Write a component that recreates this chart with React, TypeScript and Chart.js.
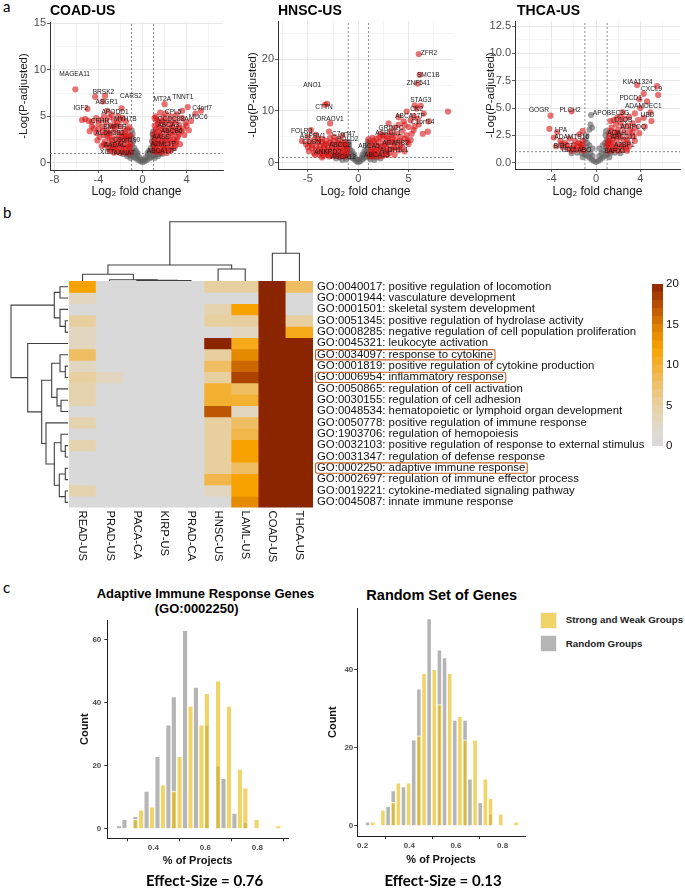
import React, { useEffect, useRef } from 'react';
import { Chart, registerables } from 'chart.js';
Chart.register(...registerables);

const SANS = "'Liberation Sans', Arial, Helvetica, sans-serif";
const CAL = "Lato, 'Open Sans', sans-serif";

// ================= Panel a: volcano data =================
const fcCut = 1;
const padjCut = 1;

const coadGray = [[0,0.05],[-0.2,0.15],[0.2,0.15],[-0.4,0.3],[0.4,0.3],[-0.6,0.45],[0.6,0.45],[-0.8,0.6],[0.8,0.6],[-1.0,0.75],[1.0,0.75],[-1.2,0.85],[1.2,0.85],[-1.5,0.95],[1.5,0.95],[-1.8,0.95],[1.8,0.95],[-0.3,0.6],[0.3,0.6],[-0.5,0.8],[0.5,0.8],[-0.7,1.0],[0.7,1.0],[-0.9,1.3],[0.9,1.3],[-0.75,1.6],[0.75,1.6],[-0.95,1.9],[0.95,1.9],[-0.85,2.3],[0.85,2.3],[-0.95,2.7],[0.95,2.7],[-0.9,3.1],[0.9,3.1],[-0.98,3.5],[0.97,3.4],[-0.6,1.3],[0.6,1.3],[-1.1,0.5],[1.1,0.5],[-0.1,0.35],[0.1,0.35],[-1.4,0.7],[1.4,0.7],[-0.45,1.05],[0.45,1.05]];
const coadRed = [[-6.1,7.9],[-4.3,7.1],[-3.4,7.2],[-3.6,6.6],[-1.9,5.85],[-5.0,5.8],[-3.2,5.6],[-3.5,5.0],[-5.2,4.7],[-4.9,4.5],[-4.6,4.4],[-4.2,4.8],[-4.0,4.2],[-3.8,4.6],[-3.0,4.9],[-2.6,4.6],[-2.3,4.3],[-2.9,4.0],[-3.6,3.9],[-4.4,3.7],[-3.2,3.5],[-2.5,3.6],[-2.0,3.9],[-1.6,3.4],[-1.3,3.0],[-2.2,3.1],[-2.8,3.2],[-3.5,3.0],[-3.9,2.8],[-3.0,2.7],[-2.5,2.6],[-1.9,2.7],[-1.4,2.4],[-1.1,2.0],[-1.7,2.0],[-2.3,2.2],[-2.9,2.1],[-3.4,2.3],[-3.7,1.8],[-3.1,1.6],[-2.6,1.7],[-2.1,1.6],[-1.5,1.6],[-1.2,1.3],[-1.8,1.2],[-2.4,1.2],[-3.0,1.3],[-2.0,1.05],[-1.4,1.05],[-4.2,3.2],[-4.8,3.4],[-1.7,2.9],[-2.1,2.5],[-2.7,1.9],[-1.3,1.8],[-3.3,4.4],[-2.8,5.2],
  [-1.2,3.8],[-1.5,4.4],[-1.8,4.8],[-2.2,5.0],[-1.1,2.9],[-1.3,2.5],[-1.6,2.6],[-2.0,2.2],[-2.4,1.9],[-2.8,2.5],[-3.2,2.9],[-3.6,3.4],[-4.0,3.6],[-4.6,3.9],[-5.5,4.6],[-2.4,4.0],[-2.7,3.9],[-3.1,3.2],[-1.9,3.2],[-1.5,2.9],[-1.2,1.7],[-1.9,1.8],[-2.3,1.4],[-2.8,1.5],[-3.3,1.9],[-1.7,1.5],[-1.1,1.1],[-2.6,1.1],[-3.5,2.0],[-4.1,2.4],[-1.4,3.6],[-2.0,4.6],
  [2.0,6.3],[3.6,5.6],[4.1,6.0],[4.8,5.3],[4.4,4.5],[5.3,5.6],[1.6,5.4],[2.1,5.3],[2.6,5.0],[3.1,5.2],[3.6,4.8],[3.9,4.3],[1.3,4.6],[1.8,4.5],[2.3,4.6],[2.8,4.3],[3.3,4.1],[1.1,4.0],[1.5,3.8],[2.0,3.9],[2.5,3.7],[3.0,3.6],[3.5,3.4],[1.2,3.3],[1.7,3.2],[2.2,3.3],[2.7,3.0],[3.2,2.8],[1.1,2.7],[1.5,2.6],[2.0,2.7],[2.5,2.4],[3.0,2.2],[1.2,2.1],[1.6,2.0],[2.1,2.0],[2.6,1.8],[1.1,1.6],[1.5,1.5],[1.9,1.4],[2.4,1.3],[1.2,1.15],[1.7,1.1],[2.2,1.05],[2.9,1.6],[3.4,2.0],[3.8,3.0],[4.2,3.5],[1.4,3.0],[1.8,2.3],[2.3,2.8],[1.3,1.9],[1.0,1.3],[2.7,3.8],[1.9,4.9],
  [1.1,4.8],[1.4,4.2],[1.7,3.6],[2.1,3.5],[2.5,3.2],[2.9,3.3],[3.3,3.1],[1.2,3.6],[1.6,2.9],[2.0,2.4],[2.4,2.2],[2.8,2.5],[3.1,2.5],[1.4,2.3],[1.8,1.9],[2.2,1.6],[2.6,1.4],[1.3,1.3],[1.6,1.2],[2.0,1.6],[3.0,1.9],[3.3,3.7],[3.0,4.6],[2.5,4.2],[2.0,4.3],[1.5,4.4],[1.2,5.0],[3.7,3.7],[4.0,4.0],[1.0,2.3],[1.0,3.0],[1.0,1.9]];
const coadGenes = [['MAGEA11',-6.16,9.55],['BRSK2',-3.55,7.55],['CARS2',-1.05,7.2],['MT2A',1.8,6.8],['TNNT1',3.65,7.1],['ASGR1',-3.25,6.5],['IGF2',-5.6,5.85],['C4orf7',5.4,5.85],['APODD1',-2.5,5.46],['CPL5',2.78,5.42],['MUC6',5.05,4.89],['CCDC88A',2.78,4.7],['CFHR',-3.86,4.45],['MYH7B',-1.57,4.67],['ABCA3',2.33,4.06],['BMPER',-2.5,3.84],['ABCB6',2.64,3.41],['ALDH3B2',-2.96,3.16],['C9orf190',-1.44,2.44],['AASS',1.67,2.73],['AADAC',-2.5,1.9],['A2ML1P',1.88,2.01],['XIST',-3.2,1.18],['AANAT',-1.66,1.08],['ABCA17P',1.73,1.29]];

const hnscGray = [[0,0.1],[-0.2,0.3],[0.2,0.3],[-0.4,0.6],[0.4,0.6],[-0.6,0.9],[0.6,0.9],[-0.8,1.1],[0.8,1.1],[-1.1,1.2],[1.1,1.2],[-1.4,1.25],[1.4,1.25],[-1.8,1.0],[1.8,1.0],[-2.2,0.8],[2.2,0.8],[-0.3,0.9],[0.3,0.9],[-0.5,1.3],[0.5,1.3],[-0.7,1.7],[0.7,1.7],[-0.9,2.0],[0.9,2.0],[-0.8,2.5],[0.8,2.5],[-0.95,3.0],[0.95,3.0],[-0.9,3.5],[0.9,3.5],[-0.6,2.2],[0.6,2.2],[-1.2,0.6],[1.2,0.6],[-0.1,0.5],[0.1,0.5],[-1.6,0.5],[1.6,0.5],[-0.4,1.6],[0.4,1.6],[-0.97,4.0],[0.97,4.1]];
const hnscRed = [[-3.1,11.4],[-3.3,11.2],[-2.8,7.6],[-4.7,6.3],[-5.6,4.2],[-5.2,3.6],[-4.8,3.9],[-4.4,4.4],[-4.0,4.0],[-3.6,4.6],[-3.2,4.2],[-2.8,4.8],[-2.4,5.0],[-2.0,4.4],[-1.6,5.2],[-1.3,4.0],[-4.6,2.8],[-4.2,3.2],[-3.8,2.6],[-3.4,3.4],[-3.0,3.0],[-2.6,3.6],[-2.2,3.2],[-1.8,3.6],[-1.4,3.0],[-4.9,2.2],[-4.4,1.9],[-3.9,1.6],[-3.5,2.2],[-3.1,1.9],[-2.7,2.4],[-2.3,2.0],[-1.9,2.4],[-1.5,2.0],[-1.2,1.5],[-1.6,1.3],[-2.1,1.5],[-2.6,1.3],[-3.0,1.5],[-3.5,1.3],[-1.1,2.6],[-1.3,3.5],[-5.0,5.0],[-4.2,5.4],[-3.6,1.0],[-2.9,6.0],
  [-1.1,1.8],[-1.4,2.4],[-1.8,2.9],[-2.2,2.6],[-2.6,2.9],[-3.0,2.4],[-3.4,2.8],[-3.8,3.3],[-4.2,2.5],[-4.6,3.4],[-5.0,3.0],[-1.2,3.2],[-1.6,4.0],[-2.0,3.7],[-2.4,4.2],[-2.8,3.9],[-3.2,3.6],[-3.6,4.0],[-4.0,4.6],[-1.9,1.2],[-2.4,1.6],[-2.9,1.2],[-3.3,1.7],[-3.8,2.0],[-4.3,1.5],[-1.3,1.2],[-1.7,1.7],
  [6.0,21.0],[6.1,17.0],[5.9,15.3],[6.2,11.0],[8.9,9.9],[7.0,8.0],[6.9,6.0],[6.5,9.5],[5.8,10.5],[5.5,9.0],[5.2,8.2],[6.0,7.4],[6.4,5.6],[4.8,9.9],[4.5,8.0],[4.0,7.3],[3.6,6.8],[4.4,6.2],[5.0,6.9],[5.6,7.0],[3.2,6.0],[3.8,5.6],[2.8,5.2],[3.4,4.8],[4.2,5.0],[4.8,5.3],[5.3,5.6],[2.4,4.6],[3.0,4.2],[3.6,3.8],[4.2,3.5],[2.0,4.0],[2.6,3.6],[1.6,3.6],[2.2,3.0],[2.8,2.8],[3.4,2.6],[4.0,2.4],[1.3,3.0],[1.8,2.5],[1.2,2.2],[1.6,1.8],[2.1,1.9],[2.6,1.6],[3.1,1.9],[1.1,1.4],[1.5,1.2],[2.0,1.2],[3.6,1.5],[4.6,2.2],[5.0,3.6],[1.0,4.5],[1.4,4.8],[2.2,5.6],[3.0,7.6],[5.2,4.4],[4.0,8.8],[5.6,11.1],
  [1.2,3.8],[1.5,4.2],[1.8,4.6],[2.1,5.0],[2.5,5.3],[2.9,4.7],[3.3,5.3],[3.7,4.4],[4.1,4.2],[4.6,4.6],[1.3,1.8],[1.7,2.2],[2.3,2.4],[2.7,2.2],[3.1,2.6],[3.5,3.1],[3.9,3.0],[4.4,2.9],[2.4,3.3],[1.9,3.1],[1.4,2.6],[2.9,3.6],[3.3,4.0],[1.2,1.2],[1.8,1.5],[2.4,1.3],[2.9,1.5],[4.9,4.2],[5.5,6.3],[5.9,8.5],[4.6,7.3]];
const hnscGenes = [['ZFR2',7.02,21.2],['SMC1B',6.95,16.96],['ZNF541',5.96,15.35],['ANO1',-4.57,15.0],['STAG3',6.2,12.1],['CTTN',-3.41,10.8],['CK2',5.8,10.4],['ABCA17P',5.13,9.03],['ORAOV1',-2.81,8.45],['C1orf14',6.39,7.74],['GRIN2C',3.25,6.77],['FOLR3',-5.62,6.13],['ASRGL1',2.98,5.68],['C7orf47',-1.45,5.55],['ASPRV1',-4.53,5.16],['POLD2',-1.05,4.58],['CDSN',-4.63,4.06],['ADARB2',3.71,3.75],['ABCC2',-1.82,3.42],['ABCA5',1.06,3.1],['ANKRD2',-3.04,2.13],['ALDH1L1',3.55,2.46],['ABCA12',-1.49,1.16],['ABCA13',1.83,1.49]];

const thcaGray = [[0,0.05],[-0.2,0.15],[0.2,0.15],[-0.4,0.3],[0.4,0.3],[-0.6,0.45],[0.6,0.45],[-0.8,0.6],[0.8,0.6],[-1.0,0.75],[1.0,0.75],[-1.3,0.85],[1.3,0.85],[-1.7,0.9],[1.7,0.9],[-0.3,0.6],[0.3,0.6],[-0.5,0.85],[0.5,0.85],[-0.7,1.1],[0.7,1.1],[-0.9,1.4],[0.9,1.4],[-0.8,1.8],[0.8,1.8],[-0.95,2.1],[0.95,2.1],[-0.85,2.5],[0.85,2.5],[-0.6,3.0],[0.9,2.9],[-0.5,3.5],[-0.45,4.36],[-0.35,3.2],[0.3,1.3],[-0.3,1.3],[-1.2,0.5],[1.2,0.5],[-2.2,0.85],[2.2,0.85],[-0.6,1.6],[0.6,1.6]];
const thcaRed = [[-4.1,4.3],[-2.2,4.7],[-4.2,3.1],[-3.5,2.8],[-3.8,2.3],[-3.2,2.0],[-2.8,1.8],[-2.4,2.2],[-2.0,1.6],[-1.6,1.8],[-1.3,1.4],[-1.8,1.2],[-2.5,1.3],[-3.0,1.4],[-1.2,2.0],[-1.5,2.6],[-1.1,1.1],[-3.6,1.5],[-2.2,1.1],[-1.2,2.9],
  [-1.4,1.2],[-1.7,1.5],[-2.1,1.3],[-2.6,1.6],[-3.1,1.7],[-1.4,1.7],[-1.9,2.0],[-1.2,1.6],
  [3.7,7.1],[5.5,7.0],[4.3,6.3],[5.6,6.2],[4.6,5.6],[3.9,5.8],[4.0,5.0],[3.5,4.5],[4.9,4.6],[3.0,4.2],[2.6,4.0],[2.2,3.7],[1.8,3.5],[3.3,3.6],[3.8,3.9],[4.3,4.1],[1.4,3.2],[2.0,3.0],[2.6,2.8],[3.1,3.0],[3.6,3.2],[1.2,2.6],[1.6,2.4],[2.2,2.3],[2.8,2.1],[3.4,2.4],[1.1,2.0],[1.5,1.8],[2.0,1.7],[2.5,1.6],[3.0,1.5],[1.2,1.4],[1.7,1.3],[2.3,1.2],[1.1,1.1],[2.8,1.1],[3.9,2.7],[4.4,3.3],[5.0,3.8],[1.9,2.7],[1.3,3.8],[2.4,4.6],[1.0,1.6],
  [1.3,2.9],[1.7,2.8],[2.4,3.3],[2.9,3.4],[1.5,2.1],[1.9,2.2],[2.5,2.1],[1.3,1.7],[1.8,1.5],[2.3,1.5],[2.7,1.3],[1.5,1.2],[2.0,1.1],[1.2,2.3],[2.1,2.6],[3.3,2.8],[2.2,4.2],[1.6,3.9],[3.0,2.5],[1.1,1.8],[1.4,1.1],[2.9,1.8],[3.5,2.0],[1.9,4.1]];
const thcaGenes = [['KIAA1324',3.75,7.35],['CXCL9',5.01,6.71],['PDCD1',3.12,5.86],['ADAMDEC1',4.26,5.19],['GOGR',-5.14,4.76],['PLCH2',-2.34,4.76],['APOBEC3G',1.35,4.52],['UBD',4.65,4.33],['C1QB',2.46,3.9],['ADIPOQ',3.36,3.29],['LPA',-3.15,2.99],['AOAH',1.86,2.69],['ABCC11',2.46,2.29],['ADAMTS16',-2.19,2.29],['BIRC7',-2.94,1.53],['A2BP1',2.55,1.56],['TBX5',-2.49,1.1],['ABO',-1.05,1.1],['BARX1',1.71,1.01]];

// ================= Panel b: heatmap data =================
const heatCols = ['READ-US','PRAD-US','PACA-CA','KIRP-US','PRAD-CA','HNSC-US','LAML-US','COAD-US','THCA-US'];
const goTerms = [
  'GO:0040017: positive regulation of locomotion',
  'GO:0001944: vasculature development',
  'GO:0001501: skeletal system development',
  'GO:0051345: positive regulation of hydrolase activity',
  'GO:0008285: negative regulation of cell population proliferation',
  'GO:0045321: leukocyte activation',
  'GO:0034097: response to cytokine',
  'GO:0001819: positive regulation of cytokine production',
  'GO:0006954: inflammatory response',
  'GO:0050865: regulation of cell activation',
  'GO:0030155: regulation of cell adhesion',
  'GO:0048534: hematopoietic or lymphoid organ development',
  'GO:0050778: positive regulation of immune response',
  'GO:1903706: regulation of hemopoiesis',
  'GO:0032103: positive regulation of response to external stimulus',
  'GO:0031347: regulation of defense response',
  'GO:0002250: adaptive immune response',
  'GO:0002697: regulation of immune effector process',
  'GO:0019221: cytokine-mediated signaling pathway',
  'GO:0045087: innate immune response',
];
const heatValues = [
  [12,0,0,0,0,5,5,20,8],
  [3,0,0,0,0,0,0,20,0],
  [0,0,0,0,0,4,12,20,0],
  [5,0,0,0,0,5,5,20,5],
  [3,0,0,0,0,0,3,20,11],
  [3,0,0,0,0,20,11,20,20],
  [8,0,0,0,0,5,14,20,20],
  [3,0,0,0,0,8,16,20,20],
  [5,3,0,0,0,5,18,20,20],
  [4,0,0,0,0,10,8,20,20],
  [4,0,0,0,0,10,10,20,20],
  [0,0,0,0,0,17,3,20,20],
  [4,0,0,0,0,5,8,20,20],
  [0,0,0,0,0,5,9,20,20],
  [4,0,0,0,0,5,12,20,20],
  [0,0,0,0,0,5,12,20,20],
  [0,0,0,0,0,5,8,20,20],
  [0,0,0,0,0,9,12,20,20],
  [4,0,0,0,0,3,12,20,20],
  [0,0,0,0,0,0,14,20,20],
];
const highlightedTerms = ['GO:0034097', 'GO:0006954', 'GO:0002250'];
// hclust-style merges: [a, b, height]; negative = earlier merge (1-based)
const colMerges = [[3,4,0.4],[2,-1,0.6],[1,-2,1.2],[0,-3,6.7],[5,6,12],[-4,-5,16],[7,8,27.7],[-6,-7,59.3]];
const rowMerges = [[3,4,2.7],[0,1,8],[2,-1,8],[-2,-3,13.7],[7,8,2.7],[6,-5,8],[10,11,7],[9,-7,11],[-6,-8,16.3],[14,15,2.7],[13,-10,7],[16,17,2.7],[18,19,2.7],[-12,-13,8.7],[-11,-14,13.7],[12,-15,22],[-9,-16,26.3],[5,-17,40.3],[-4,-18,57]];
const paletteStops = [[0,'#d9d9d9'],[2,'#e0dad0'],[5,'#e8cfa0'],[8,'#efbe62'],[10,'#f4b031'],[12,'#f8a200'],[14,'#e48a00'],[16,'#cc6800'],[18,'#ad4300'],[20,'#8b2500']];
const legendMax = 20;

// ================= Panel c: histogram data =================
const immuneBins = [0.268,0.289,0.310,0.331,0.353,0.374,0.395,0.416,0.437,0.458,0.479,0.501,0.522,0.543,0.564,0.585,0.606,0.627,0.649,0.670,0.691,0.712,0.733,0.754,0.775,0.797,0.818,0.839,0.860,0.881];
const immuneStrongWeak = [0,0,0,3,6,0,7,0,14,0,12,23,0,39,0,33,43,0,47,0,39,0,19,13,0,3,0,0,0,1];
const immuneRandom = [1,3,0,4,0,12,0,23,0,33,42,0,63,0,45,0,33,0,20,16,0,5,0,2,0,0,0,0,0,0];
const randomBins = [0.221,0.243,0.265,0.287,0.309,0.331,0.353,0.375,0.397,0.419,0.441,0.463,0.485,0.507,0.529,0.551,0.573,0.595,0.617,0.639,0.660,0.682,0.704,0.726,0.748,0.770,0.792,0.814,0.836,0.858];
const randomStrongWeak = [0,1,0,4,0,6,11,0,11,0,23,39,0,40,31,0,39,0,28,22,0,22,0,12,7,0,3,0,0,1];
const randomRandom = [1,0,0,0,5,9,0,10,0,22,35,0,53,0,45,43,0,27,0,27,12,0,6,0,3,0,0,0,0,0];
const effectSizes = ['0.76', '0.13'];
const seriesNames = ['Strong and Weak Groups', 'Random Groups'];

const YELLOW = 'rgba(231,186,10,0.62)';
const GRAY = 'rgba(128,128,128,0.58)';

// ================= helpers =================
function hexToRgb(h: string) { const n = parseInt(h.slice(1), 16); return [(n >> 16) & 255, (n >> 8) & 255, n & 255]; }
function heatColor(v: number) {
  for (let i = 1; i < paletteStops.length; i++) {
    const [v0, c0] = paletteStops[i - 1] as [number, string];
    const [v1, c1] = paletteStops[i] as [number, string];
    if (v <= v1) {
      const t = (v - v0) / (v1 - v0);
      const a = hexToRgb(c0), b = hexToRgb(c1);
      return `rgb(${Math.round(a[0] + (b[0] - a[0]) * t)},${Math.round(a[1] + (b[1] - a[1]) * t)},${Math.round(a[2] + (b[2] - a[2]) * t)})`;
    }
  }
  return paletteStops[paletteStops.length - 1][1] as string;
}
function dendroSegments(merges: number[][]) {
  const pos: number[] = [], hts: number[] = [], out: { p: number; h: number }[][] = [];
  merges.forEach(([a, b, h], k) => {
    const pa = a >= 0 ? a : pos[-a - 1], ha = a >= 0 ? 0 : hts[-a - 1];
    const pb = b >= 0 ? b : pos[-b - 1], hb = b >= 0 ? 0 : hts[-b - 1];
    out.push([{ p: pa, h: ha }, { p: pa, h }, { p: pb, h }, { p: pb, h: hb }]);
    pos[k] = (pa + pb) / 2; hts[k] = h;
  });
  return out;
}
const isMaj = (v: number, st: number) => Math.abs(v / st - Math.round(v / st)) < 1e-6;
const baseOpts = { responsive: false, animation: false, devicePixelRatio: 1, events: [] as any[] };
const noPlugins = { legend: { display: false }, tooltip: { enabled: false } };

const geneLabelPlugin = {
  id: 'geneLabels',
  afterDatasetsDraw(chart: any, _a: any, opts: any) {
    const { ctx, scales: { x, y } } = chart;
    ctx.save();
    ctx.font = `6.6px ${SANS}`; ctx.fillStyle = '#1a1a1a'; ctx.textAlign = 'center'; ctx.textBaseline = 'middle';
    for (const g of opts.genes || []) ctx.fillText(g[0], x.getPixelForValue(g[1]), y.getPixelForValue(g[2]));
    ctx.restore();
  },
};

function volcanoConfig(s: any) {
  const pts = (a: number[][]) => a.map(([x, y]) => ({ x, y }));
  const dash = { showLine: true, pointRadius: 0, borderColor: '#707070', borderWidth: 0.8, borderDash: [2, 2], clip: true };
  return {
    type: 'scatter',
    data: {
      datasets: [
        { data: pts(s.red), backgroundColor: 'rgba(212,16,16,0.58)', pointRadius: 3.1, borderWidth: 0 },
        { data: pts(s.gray), backgroundColor: 'rgba(95,95,95,0.62)', pointRadius: 3.0, borderWidth: 0 },
        { data: [{ x: -fcCut, y: s.yMin }, { x: -fcCut, y: s.yMax }], ...dash },
        { data: [{ x: fcCut, y: s.yMin }, { x: fcCut, y: s.yMax }], ...dash },
        { data: [{ x: s.xMin, y: padjCut }, { x: s.xMax, y: padjCut }], ...dash },
      ],
    },
    options: {
      ...baseOpts,
      layout: { padding: { top: s.padTop, right: s.padRight, left: 0, bottom: 0 } },
      plugins: { ...noPlugins, geneLabels: { genes: s.genes } },
      scales: {
        x: {
          type: 'linear', min: s.xMin, max: s.xMax,
          afterFit: (sc: any) => { sc.height = s.xAxisH; },
          ticks: { stepSize: s.xMinor, autoSkip: false, includeBounds: false, maxRotation: 0, padding: 0, color: '#4d4d4d', font: { family: SANS, size: 11 }, callback: (v: number) => (isMaj(v, s.xMajor) ? String(v) : '') },
          grid: { color: (c: any) => (c.tick && isMaj(c.tick.value, s.xMajor) ? '#e3e3e3' : '#f1f1f1'), tickColor: (c: any) => (c.tick && isMaj(c.tick.value, s.xMajor) ? '#333' : 'rgba(0,0,0,0)'), tickLength: 3, lineWidth: 0.8 },
          border: { color: '#333', width: 1 },
          title: { display: true, text: 'Log₂ fold change', color: '#1a1a1a', font: { family: SANS, size: 12 }, padding: { top: 0, bottom: 1 } },
        },
        y: {
          type: 'linear', min: s.yMin, max: s.yMax,
          afterFit: (sc: any) => { sc.width = s.yAxisW; },
          ticks: { stepSize: s.yMinor, autoSkip: false, includeBounds: false, padding: 1, color: '#4d4d4d', font: { family: SANS, size: 11 }, callback: (v: number) => (isMaj(v, s.yMajor) ? s.yFmt(v) : '') },
          grid: { color: (c: any) => (c.tick && isMaj(c.tick.value, s.yMajor) ? '#e3e3e3' : '#f1f1f1'), tickColor: (c: any) => (c.tick && isMaj(c.tick.value, s.yMajor) ? '#333' : 'rgba(0,0,0,0)'), tickLength: 3, lineWidth: 0.8 },
          border: { color: '#333', width: 1 },
          title: { display: true, text: '-Log(P-adjusted)', color: '#1a1a1a', font: { family: SANS, size: 11.5 }, padding: { top: s.yTitlePad, bottom: 0 } },
        },
      },
    },
    plugins: [geneLabelPlugin],
  };
}

const volcanoSpecs = [
  { title: 'COAD-US', left: 0, width: 228, titleX: 50, gray: coadGray, red: coadRed, genes: coadGenes, xMin: -8.4, xMax: 7.3, yMin: -0.78, yMax: 15.15, xMinor: 2, xMajor: 4, yMinor: 2.5, yMajor: 5, yFmt: (v: number) => String(v), yAxisW: 50, padRight: 5, padTop: 22, xAxisH: 30, yTitlePad: 17 },
  { title: 'HNSC-US', left: 228, width: 229, titleX: 278, gray: hnscGray, red: hnscRed, genes: hnscGenes, xMin: -7.97, xMax: 9.4, yMin: -1.22, yMax: 27.4, xMinor: 2.5, xMajor: 5, yMinor: 5, yMajor: 10, yFmt: (v: number) => String(v), yAxisW: 50, padRight: 4, padTop: 21, xAxisH: 31, yTitlePad: 18 },
  { title: 'THCA-US', left: 457, width: 228, titleX: 517, gray: thcaGray, red: thcaRed, genes: thcaGenes, xMin: -7.3, xMax: 7.57, yMin: -0.58, yMax: 12.96, xMinor: 2, xMajor: 4, yMinor: 1.25, yMajor: 2.5, yFmt: (v: number) => v.toFixed(1), yAxisW: 58, padRight: 5, padTop: 21, xAxisH: 31, yTitlePad: 27 },
];

// ---------- heatmap ----------
const heatLabelPlugin = {
  id: 'heatLabels',
  afterDraw(chart: any) {
    const { ctx, chartArea, scales: { x, y } } = chart;
    ctx.save();
    ctx.font = `11.4px ${SANS}`; ctx.fillStyle = '#111'; ctx.textBaseline = 'middle'; ctx.textAlign = 'left';
    goTerms.forEach((t, i) => {
      const py = y.getPixelForValue(i + 0.5);
      const px = chartArea.right + 4;
      ctx.fillText(t, px, py);
      if (highlightedTerms.some((h) => t.startsWith(h))) {
        const w = ctx.measureText(t).width;
        const top = y.getPixelForValue(i), bot = y.getPixelForValue(i + 1);
        ctx.strokeStyle = '#c4662e'; ctx.lineWidth = 1.1;
        ctx.beginPath();
        ctx.roundRect(px - 1.5, top + 0.6, w + 3.5, bot - top - 1.0, 2);
        ctx.stroke();
      }
    });
    ctx.font = `11.2px ${SANS}`;
    heatCols.forEach((c, j) => {
      ctx.save();
      ctx.translate(x.getPixelForValue(j), chartArea.bottom + 3);
      ctx.rotate(Math.PI / 2);
      ctx.fillText(c, 0, 0);
      ctx.restore();
    });
    ctx.restore();
  },
};
const heatConfig = {
  type: 'bar',
  data: {
    labels: heatCols,
    datasets: goTerms.map((t, r) => ({
      label: t,
      data: heatCols.map(() => 1),
      backgroundColor: heatValues[r].map(heatColor),
      borderWidth: 0, barPercentage: 1, categoryPercentage: 1,
    })),
  },
  options: {
    ...baseOpts,
    layout: { padding: { left: 9, top: 6, right: 347, bottom: 67.4 } },
    plugins: noPlugins,
    scales: {
      x: { display: false, stacked: true },
      y: { display: false, stacked: true, reverse: true, min: 0, max: goTerms.length },
    },
  },
  plugins: [heatLabelPlugin],
};

const legendBands = Array.from({ length: legendMax }, (_, i) => i + 0.5);
const colorbarConfig = {
  type: 'bar',
  data: {
    labels: [''],
    datasets: legendBands.map((v) => ({ data: [1], backgroundColor: heatColor(v), borderWidth: 0, barPercentage: 1, categoryPercentage: 1 })),
  },
  options: {
    ...baseOpts,
    layout: { padding: { top: 6, bottom: 6, left: 0, right: 0 } },
    plugins: noPlugins,
    scales: {
      x: { display: false, stacked: true },
      y: {
        stacked: true, position: 'right', min: 0, max: legendMax,
        afterFit: (sc: any) => { sc.width = 22; },
        ticks: { stepSize: 5, padding: 3, color: '#111', font: { family: SANS, size: 11.5 } },
        grid: { display: false, drawTicks: false }, border: { display: false },
      },
    },
  },
};

function dendroConfig(merges: number[][], vertical: boolean, xr: number[], yr: number[], rev: { x: boolean; y: boolean }) {
  const segs = dendroSegments(merges);
  return {
    type: 'scatter',
    data: {
      datasets: segs.map((s) => ({
        data: s.map((q) => (vertical ? { x: q.p, y: q.h } : { x: q.h, y: q.p })),
        showLine: true, pointRadius: 0, borderColor: '#404040', borderWidth: 1.1, clip: false,
      })),
    },
    options: {
      ...baseOpts,
      layout: { padding: 0 },
      plugins: noPlugins,
      scales: {
        x: { type: 'linear', display: false, min: xr[0], max: xr[1], reverse: rev.x },
        y: { type: 'linear', display: false, min: yr[0], max: yr[1], reverse: rev.y },
      },
    },
  };
}

// ---------- histograms ----------
function histConfig(h: any) {
  const mk = (vals: number[]) => h.bins.map((x: number, i: number) => ({ x, y: vals[i] }));
  const ds = (label: string, vals: number[], color: string) => ({
    label, data: mk(vals), backgroundColor: color, borderColor: 'rgba(255,255,255,0.85)', borderWidth: 1,
    grouped: false, barPercentage: 1, categoryPercentage: 1,
  });
  return {
    type: 'bar',
    data: { datasets: [ds(seriesNames[0], h.sw, YELLOW), ds(seriesNames[1], h.rnd, GRAY)] },
    options: {
      ...baseOpts,
      layout: { padding: { top: h.padTop, right: h.padRight, left: 0, bottom: 0 } },
      plugins: noPlugins,
      scales: {
        x: {
          type: 'linear', min: h.xMin, max: h.xMax, offset: false,
          afterFit: (sc: any) => { sc.height = h.xAxisH; },
          ticks: { stepSize: 0.2, includeBounds: false, maxRotation: 0, padding: 2, color: '#4d4d4d', font: { family: SANS, size: 8, weight: 'bold' }, callback: (v: number) => v.toFixed(1) },
          grid: { drawOnChartArea: false, tickLength: 3, tickColor: '#333' },
          border: { color: '#222', width: 1 },
          title: { display: true, text: '% of Projects', color: '#111', font: { family: SANS, size: 11, weight: 'bold' }, padding: { top: 0, bottom: h.xTitlePad } },
        },
        y: {
          type: 'linear', min: h.yMin, max: h.yMax,
          afterFit: (sc: any) => { sc.width = h.yAxisW; },
          ticks: { stepSize: 20, includeBounds: false, padding: h.yTickPad, color: '#4d4d4d', font: { family: SANS, size: 8, weight: 'bold' } },
          grid: { drawOnChartArea: false, tickLength: 3, tickColor: '#333' },
          border: { color: '#222', width: 1 },
          title: { display: true, text: 'Count', color: '#111', font: { family: SANS, size: 11, weight: 'bold' }, padding: { top: h.yTitlePad, bottom: 0 } },
        },
      },
    },
  };
}
const histSpecs = [
  { left: 60, top: 612, width: 235, height: 260, bins: immuneBins, sw: immuneStrongWeak, rnd: immuneRandom, xMin: 0.223, xMax: 0.918, yMin: -3, yMax: 66.3, padTop: 8, padRight: 7, xAxisH: 33.7, yAxisW: 47.3, xTitlePad: 4.4, yTitlePad: 18.4, yTickPad: 3 },
  { left: 310, top: 600, width: 225, height: 272, bins: randomBins, sw: randomStrongWeak, rnd: randomRandom, xMin: 0.177, xMax: 0.896, yMin: -2.6, yMax: 55.6, padTop: 8.3, padRight: 10, xAxisH: 36, yAxisW: 47.3, xTitlePad: 5.4, yTitlePad: 16.4, yTickPad: 1 },
];

// ================= components =================
function ChartCanvas({ left, top, width, height, config }: any) {
  const ref = useRef<HTMLCanvasElement>(null);
  useEffect(() => {
    const chart = new Chart(ref.current as HTMLCanvasElement, config);
    return () => chart.destroy();
  }, []);
  return <canvas ref={ref} width={width} height={height} style={{ position: 'absolute', left, top, width, height }} />;
}

const abs = (s: any) => ({ position: 'absolute', whiteSpace: 'nowrap', ...s });

if (typeof document !== 'undefined') document.body.style.margin = '0';

export default function App() {
  useEffect(() => { document.body.style.margin = '0'; }, []);
  return (
    <div style={{ position: 'relative', width: 685, height: 888, background: '#fff', overflow: 'hidden', fontFamily: SANS }}>
      {/* panel a */}
      <div style={abs({ left: 3, top: -3, font: `15px ${CAL}` })}>a</div>
      {volcanoSpecs.map((s) => (
        <React.Fragment key={s.title}>
          <ChartCanvas left={s.left} top={0} width={s.width} height={200} config={volcanoConfig(s)} />
          <div style={abs({ left: s.titleX, top: 3, font: `bold 14px/14px ${SANS}`, color: '#000' })}>{s.title}</div>
        </React.Fragment>
      ))}

      {/* panel b */}
      <div style={abs({ left: 3, top: 203, font: `15px ${CAL}` })}>b</div>
      <ChartCanvas left={69} top={215} width={244} height={66} config={dendroConfig(colMerges, true, [-0.5, heatCols.length - 0.5], [0, 66], { x: false, y: false })} />
      <ChartCanvas left={6} top={281} width={62} height={227} config={dendroConfig(rowMerges, false, [0, 62], [-0.5, goTerms.length - 0.5], { x: true, y: true })} />
      <ChartCanvas left={60} top={275} width={600} height={300} config={heatConfig} />
      <ChartCanvas left={652} top={274} width={33} height={182} config={colorbarConfig} />

      {/* panel c */}
      <div style={abs({ left: 3, top: 578, font: `15px ${CAL}` })}>c</div>
      <div style={abs({ left: 96.7, width: 200, top: 585.5, textAlign: 'center', font: `bold 13px/15px ${SANS}`, color: '#000' })}>
        Adaptive Immune Response Genes<br />(GO:0002250)
      </div>
      <div style={abs({ left: 341.7, width: 200, top: 586, textAlign: 'center', font: `bold 14.5px/18px ${SANS}`, color: '#000' })}>Random Set of Genes</div>
      {histSpecs.map((h, i) => (
        <ChartCanvas key={i} left={h.left} top={h.top} width={h.width} height={h.height} config={histConfig(h)} />
      ))}
      <div style={abs({ left: 104.5, width: 200, top: 870, textAlign: 'center', font: `bold 15px/20px ${CAL}`, color: '#000' })}>Effect-Size = {effectSizes[0]}</div>
      <div style={abs({ left: 343, width: 200, top: 870, textAlign: 'center', font: `bold 15px/20px ${CAL}`, color: '#000' })}>Effect-Size = {effectSizes[1]}</div>
      {/* legend */}
      <div style={abs({ left: 540, top: 612, width: 17, height: 17, background: YELLOW, boxSizing: 'border-box', border: '1px solid #f2f2f2' })} />
      <div style={abs({ left: 540, top: 635, width: 17, height: 17, background: GRAY, boxSizing: 'border-box', border: '1px solid #f2f2f2' })} />
      <div style={abs({ left: 565.7, top: 614, font: `bold 9.8px/12px ${SANS}`, color: '#222' })}>{seriesNames[0]}</div>
      <div style={abs({ left: 565.7, top: 638, font: `bold 9.8px/12px ${SANS}`, color: '#222' })}>{seriesNames[1]}</div>
    </div>
  );
}
